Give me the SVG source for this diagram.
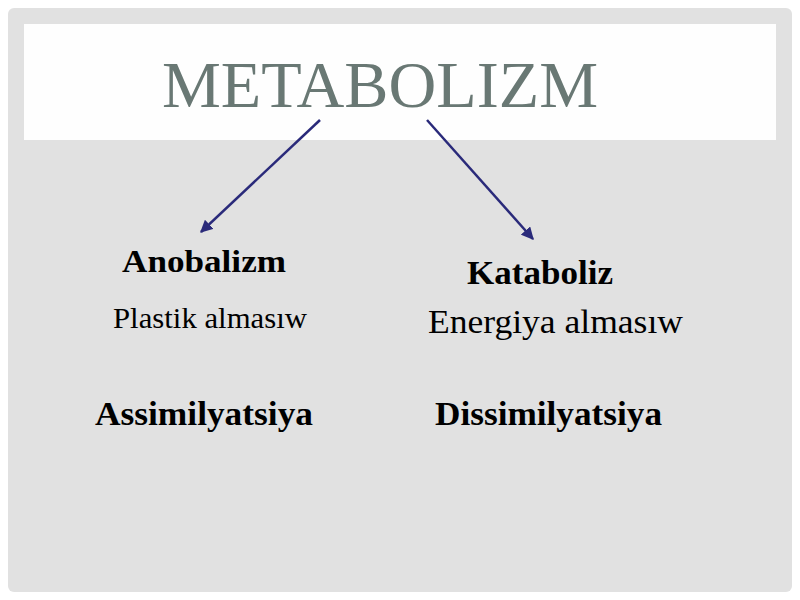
<svg xmlns="http://www.w3.org/2000/svg" width="800" height="600" viewBox="0 0 800 600">
<defs>
<style>
.t{font-family:"Liberation Serif","Times New Roman",serif;fill:#000}
.b{font-weight:bold}
.title{font-family:"Liberation Serif","Times New Roman",serif;fill:#697874}
.conn{stroke:#2a2a7a;stroke-width:2.5;fill:none;marker-end:url(#ah)}
</style>
<marker id="ah" viewBox="0 0 10 10" refX="9" refY="5" markerWidth="5" markerHeight="5" orient="auto" markerUnits="strokeWidth">
<path d="M0,0 L10,5 L0,10 z" fill="#2a2a7a"/>
</marker>
</defs>
<rect x="0" y="0" width="800" height="600" fill="#ffffff"/>
<rect x="8" y="8" width="784" height="584" rx="6" fill="#e1e1e1"/>
<rect x="24" y="24" width="752" height="116" fill="#fefefe"/>
<g id="title"><text class="title" x="162" y="107" font-size="66" textLength="436" lengthAdjust="spacingAndGlyphs">METABOLIZM</text></g>
<g id="connectors">
<line class="conn" x1="320" y1="120" x2="201" y2="232"/>
<line class="conn" x1="427" y1="120" x2="533" y2="239"/>
</g>
<g id="anobalizm">
<text class="t b" x="122" y="272" font-size="32" textLength="164" lengthAdjust="spacingAndGlyphs">Anobalizm</text>
<text class="t" x="113" y="328" font-size="29" textLength="194" lengthAdjust="spacingAndGlyphs">Plastik almasıw</text>
</g>
<g id="kataboliz">
<text class="t b" x="467" y="284" font-size="33" textLength="146" lengthAdjust="spacingAndGlyphs">Kataboliz</text>
<text class="t" x="428" y="333" font-size="34" textLength="255" lengthAdjust="spacingAndGlyphs">Energiya almasıw</text>
</g>
<g id="assimilyatsiya"><text class="t b" x="95" y="425" font-size="34" textLength="218" lengthAdjust="spacingAndGlyphs">Assimilyatsiya</text></g>
<g id="dissimilyatsiya"><text class="t b" x="435" y="425" font-size="34" textLength="227" lengthAdjust="spacingAndGlyphs">Dissimilyatsiya</text></g>
</svg>
